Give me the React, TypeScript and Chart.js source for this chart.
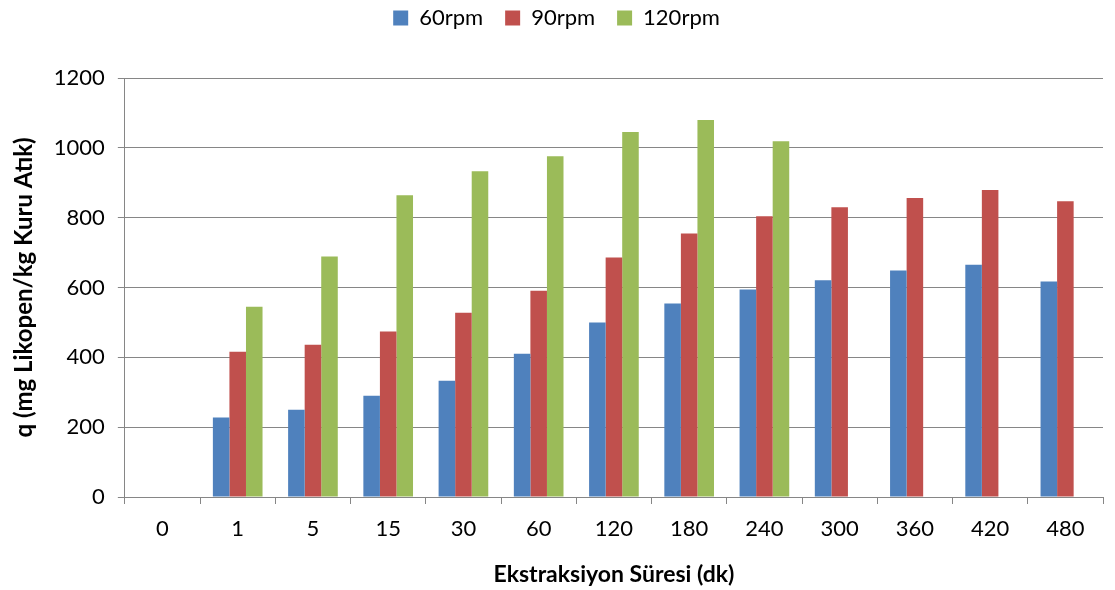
import React, { useEffect, useRef } from "react";
import { Chart, registerables } from "chart.js";

Chart.register(...registerables);

const categories = ["0", "1", "5", "15", "30", "60", "120", "180", "240", "300", "360", "420", "480"];
const rpm60 = [null, 228, 250, 290, 333, 410, 500, 554, 594, 621, 649, 665, 617];
const rpm90 = [null, 416, 436, 474, 528, 591, 686, 755, 804, 830, 856, 879, 847];
const rpm120 = [null, 545, 689, 864, 933, 976, 1045, 1080, 1019, null, null, null, null];
const yTicks = [0, 200, 400, 600, 800, 1000, 1200];

const FONT = "Lato, 'Open Sans', sans-serif";
const GRID = "#868686";

const legendSpace = {
  id: "legendSpace",
  beforeInit(chart: any) {
    const orig = chart.legend.fit;
    chart.legend.fit = function () {
      orig.call(this);
      this.height += 39;
    };
  },
};

export default function App() {
  const ref = useRef<HTMLCanvasElement>(null);
  useEffect(() => {
    document.body.style.margin = "0";
    const chart = new Chart(ref.current!, {
      type: "bar",
      plugins: [legendSpace],
      data: {
        labels: categories,
        datasets: [
          { label: "60rpm", data: rpm60, backgroundColor: "#4F81BD" },
          { label: "90rpm", data: rpm90, backgroundColor: "#C0504D" },
          { label: "120rpm", data: rpm120, backgroundColor: "#9BBB59" },
        ],
      },
      options: {
        animation: false,
        responsive: false,
        maintainAspectRatio: false,
        layout: { padding: { left: 10, right: 12, top: -15, bottom: 2 } },
        datasets: { bar: { barPercentage: 1, categoryPercentage: 0.66 } },
        plugins: {
          tooltip: { enabled: false },
          legend: {
            position: "top",
            labels: {
              font: { family: FONT, size: 22 },
              color: "#000",
              boxWidth: 15,
              boxHeight: 15,
              padding: 22,
            },
          },
        },
        scales: {
          x: {
            grid: {
              offset: true,
              drawOnChartArea: false,
              drawTicks: true,
              tickLength: 7,
              color: GRID,
            },
            border: { color: GRID, width: 1 },
            ticks: { font: { family: FONT, size: 22 }, color: "#000", padding: 12 },
            title: {
              display: true,
              text: "Ekstraksiyon Süresi (dk)",
              font: { family: FONT, size: 23, weight: "bold" },
              color: "#000",
              padding: { top: 6, bottom: 0 },
            },
          },
          y: {
            min: 0,
            max: 1200,
            afterBuildTicks: (axis: any) => {
              axis.ticks = yTicks.map((v) => ({ value: v }));
            },
            grid: { color: GRID, tickLength: 7 },
            border: { color: GRID, width: 1 },
            ticks: {
              font: { family: FONT, size: 22 },
              color: "#000",
              padding: 13,
              callback: (v: any) => String(v),
            },
            title: {
              display: true,
              text: "q (mg Likopen/kg Kuru Atık)",
              font: { family: FONT, size: 24, weight: "bold" },
              color: "#000",
              padding: { top: 0, bottom: 2 },
            },
          },
        },
      },
    });
    return () => chart.destroy();
  }, []);
  return (
    <div style={{ width: 1115, height: 590 }}>
      <canvas ref={ref} width={1115} height={590} style={{ display: "block" }} />
    </div>
  );
}
